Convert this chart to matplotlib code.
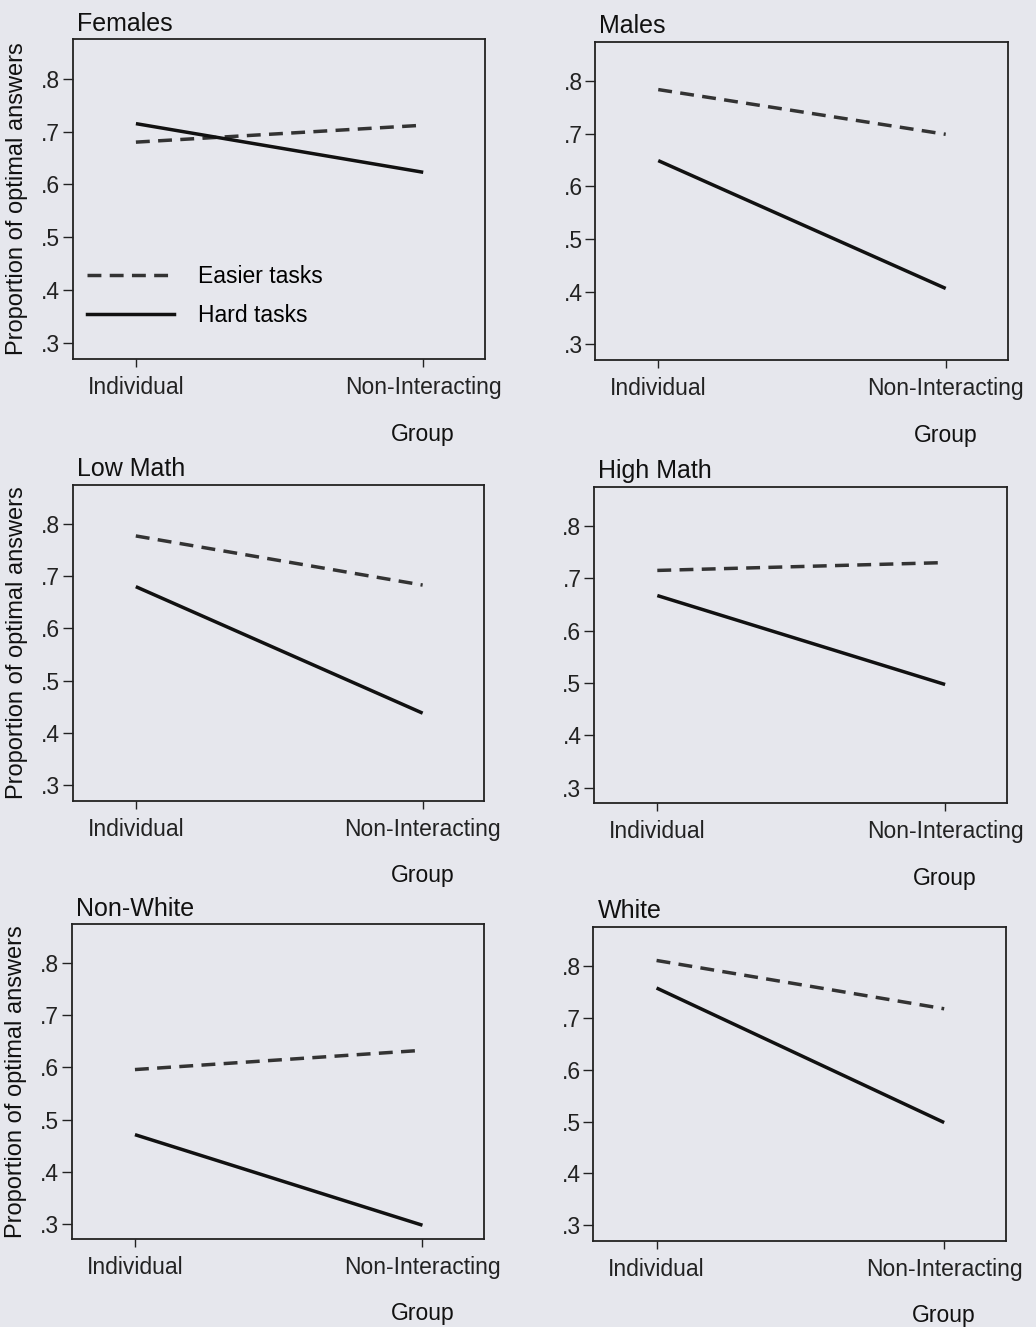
import matplotlib
matplotlib.use("Agg")
import matplotlib.pyplot as plt
from matplotlib.lines import Line2D

plt.rcParams['font.family'] = ['Liberation Sans', 'DejaVu Sans']

# ---- data ----
groups = ["Individual", "Non-Interacting"]
panels = ["Females", "Males", "Low Math", "High Math", "Non-White", "White"]
easier = {
    "Females":   [0.680, 0.712],
    "Males":     [0.784, 0.699],
    "Low Math":  [0.777, 0.683],
    "High Math": [0.715, 0.730],
    "Non-White": [0.596, 0.633],
    "White":     [0.810, 0.717],
}
hard = {
    "Females":   [0.715, 0.623],
    "Males":     [0.649, 0.406],
    "Low Math":  [0.680, 0.438],
    "High Math": [0.667, 0.497],
    "Non-White": [0.471, 0.297],
    "White":     [0.757, 0.498],
}
yticks = [0.3, 0.4, 0.5, 0.6, 0.7, 0.8]
ytick_labels = [".3", ".4", ".5", ".6", ".7", ".8"]
series_labels = ["Easier tasks", "Hard tasks"]

# ---- layout (pixel boxes: left, top, right, bottom) ----
W, H = 1036, 1327
boxes = {
    "Females":   (72.7, 39.0, 485.0, 359.0),
    "Males":     (595.0, 41.7, 1007.5, 360.0),
    "Low Math":  (72.7, 484.7, 484.3, 801.0),
    "High Math": (594.0, 486.7, 1007.0, 803.3),
    "Non-White": (71.7, 924.3, 484.3, 1239.3),
    "White":     (593.3, 926.7, 1006.0, 1241.0),
}
bg = "#e6e7ed"
fs = 16.5

fig = plt.figure(figsize=(W / 100, H / 100), dpi=100, facecolor=bg)

xlo, xhi = -0.22, 1.215
xpos = [0, 1]
dash = (4.0, 2.4)
for i, name in enumerate(panels):
    l, t, r, b = boxes[name]
    ax = fig.add_axes([l / W, 1 - b / H, (r - l) / W, (b - t) / H])
    ax.set_facecolor(bg)
    ax.plot(xpos, easier[name], color="#333333", lw=2.5, dashes=dash,
            dash_capstyle="butt")
    ax.plot(xpos, hard[name], color="#111111", lw=2.5, solid_capstyle="butt")
    ax.set_xlim(xlo, xhi)
    ax.set_ylim(0.27, 0.875)
    ax.set_yticks(yticks)
    ax.set_yticklabels(ytick_labels)
    ax.set_xticks(xpos)
    ax.set_xticklabels(groups)
    ax.tick_params(axis="y", direction="out", length=7, width=1.0, pad=2,
                   labelsize=fs, colors="#222222")
    ax.tick_params(axis="x", direction="out", length=6, width=1.0, pad=6,
                   labelsize=fs, colors="#222222")
    for sp in ax.spines.values():
        sp.set_linewidth(1.3)
        sp.set_color("#222222")
    ax.set_title(name, loc="left", fontsize=fs + 1.5, pad=6, x=0.01,
                 color="#111111")
    ax.set_xlabel("Group", fontsize=fs, color="#111111")
    ax.xaxis.set_label_coords((1 - xlo) / (xhi - xlo), -0.2)
    if i % 2 == 0:
        ax.set_ylabel("Proportion of optimal answers", fontsize=fs + 0.5,
                      color="#111111")
        ax.yaxis.set_label_coords(-0.108, 0.5)
    if name == "Females":
        handles = [
            Line2D([], [], color="#333333", lw=2.5, dashes=dash),
            Line2D([], [], color="#111111", lw=2.5),
        ]
        ax.legend(handles, series_labels, loc="lower left",
                  bbox_to_anchor=(0.035, 0.1), frameon=False, fontsize=fs,
                  handlelength=3.8, handletextpad=1.05, labelspacing=0.7,
                  borderpad=0, borderaxespad=0)

fig.savefig("out.png", dpi=100, facecolor=bg)
